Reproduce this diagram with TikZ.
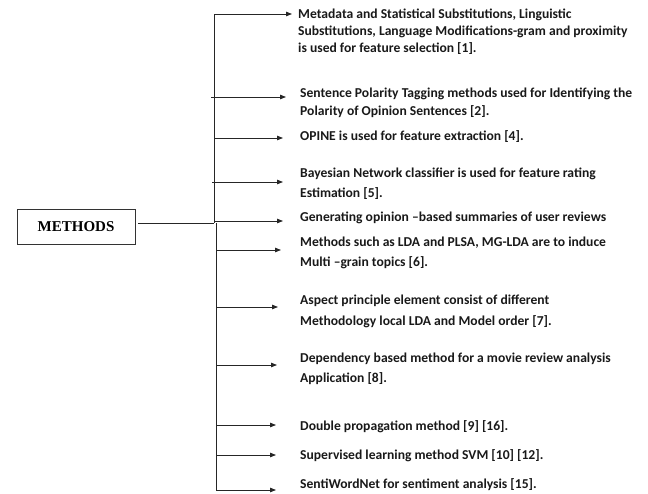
\documentclass[tikz,border=0pt]{standalone}
\usepackage{fontspec}
\setmainfont{Carlito}
\newfontfamily\boxfont{Liberation Serif}
\usetikzlibrary{arrows.meta}

\tikzset{
  link/.style={line width=0.8pt, draw=black!85},
  branch/.style={link, -{Triangle[length=6pt,width=4.5pt]}},
  item/.style={anchor=base west, inner sep=0pt, align=left,
    font=\bfseries\fontsize{13.6}{20}\selectfont, text=black!90},
  rootbox/.style={draw=black!80, line width=0.8pt, minimum width=118pt,
    minimum height=35pt, inner sep=0pt, font=\boxfont\bfseries\fontsize{15}{17}\selectfont}
}

\begin{document}
\begin{tikzpicture}[x=1pt,y=-1pt]
  \useasboundingbox (0,0) rectangle (648,493);

  % root node
  \node[rootbox] (root) at (76,227) {METHODS};

  % spine of the tree
  \coordinate (join) at (214,223);
  \coordinate (top) at (214,14);
  \coordinate (bottom) at (216,490);
  \draw[link] (root.east) ++(3,-4) -- (join);
  \draw[link] (top) -- (join);
  \draw[link] (join -| bottom) -- (bottom);

  % branch start points on the spine
  \coordinate (s1) at (214,14);
  \coordinate (s2) at (211,97);
  \coordinate (s3) at (214,138);
  \coordinate (s4) at (212,182);
  \coordinate (s5) at (214,221);
  \coordinate (s6) at (216,250);
  \coordinate (s7) at (216,307);
  \coordinate (s8) at (216,365);
  \coordinate (s9) at (216,425);
  \coordinate (s10) at (216,455);
  \coordinate (s11) at (216,490);

  % arrow tips
  \coordinate (e1) at (292,14);
  \coordinate (e2) at (286,97);
  \coordinate (e3) at (283,138);
  \coordinate (e4) at (283,182);
  \coordinate (e5) at (283,221);
  \coordinate (e6) at (281,250);
  \coordinate (e7) at (278,307);
  \coordinate (e8) at (277,365);
  \coordinate (e9) at (276,425);
  \coordinate (e10) at (276,455);
  \coordinate (e11) at (276,490);

  % method descriptions (a multi-line node sits on the baseline of its last line)
  \node[item, font=\bfseries\fontsize{13.6}{17}\selectfont] (t1) at (298,52.5)
    {Metadata and Statistical Substitutions, Linguistic\\
     Substitutions, Language Modifications-gram and proximity\\
     is used for feature selection [1].};
  \node[item, font=\bfseries\fontsize{13.6}{18}\selectfont] (t2) at (300,115.5)
    {Sentence Polarity Tagging methods used for Identifying the\\
     Polarity of Opinion Sentences [2].};
  \node[item] (t3) at (300,140.5) {OPINE is used for feature extraction [4].};
  \node[item, font=\bfseries\fontsize{13.6}{19.5}\selectfont] (t4) at (300,197)
    {Bayesian Network classifier is used for feature rating\\
     Estimation [5].};
  \node[item] (t5) at (300,221.5) {Generating opinion --based summaries of user reviews};
  \node[item] (t6) at (300,266.5)
    {Methods such as LDA and PLSA, MG-LDA are to induce\\
     Multi --grain topics [6].};
  \node[item, font=\bfseries\fontsize{13.6}{21}\selectfont] (t7) at (300,325.5)
    {Aspect principle element consist of different\\
     Methodology local LDA and Model order [7].};
  \node[item] (t8) at (300,382.5)
    {Dependency based method for a movie review analysis\\
     Application [8].};
  \node[item] (t9) at (300,430.5) {Double propagation method [9] [16].};
  \node[item] (t10) at (300,459.5) {Supervised learning method SVM [10] [12].};
  \node[item] (t11) at (300,488.5) {SentiWordNet for sentiment analysis [15].};

  % branches
  \foreach \i in {1,...,11}
    \draw[branch] (s\i) -- (e\i);
\end{tikzpicture}
\end{document}
